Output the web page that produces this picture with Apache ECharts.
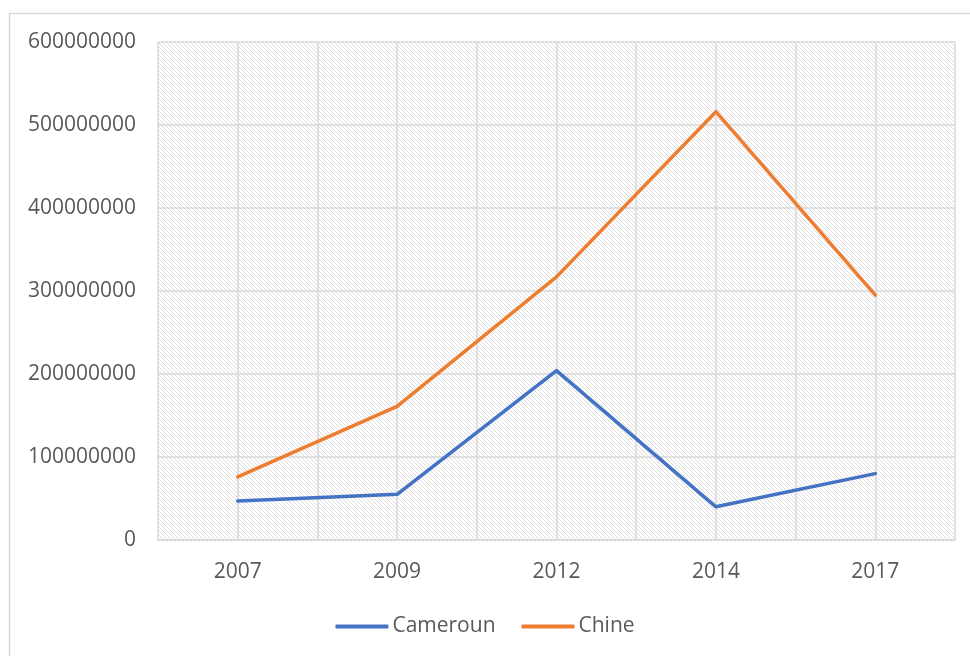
<!DOCTYPE html>
<html>
<head>
<meta charset="utf-8">
<script src="https://cdn.jsdelivr.net/npm/echarts@6/dist/echarts.min.js"></script>
<style>
  html, body { margin: 0; padding: 0; background: #fff; }
  #chart { width: 970px; height: 656px; }
</style>
</head>
<body>
<div id="chart"></div>
<script>
const years = ['2007', '2009', '2012', '2014', '2017']
const cameroun = [47000000, 55000000, 204000000, 40000000, 80000000]
const chine = [76000000, 161000000, 317000000, 516000000, 295000000]

// hatched plot background
function hatch() {
  const c = document.createElement('canvas')
  c.width = 4
  c.height = 4
  const ctx = c.getContext('2d')
  ctx.fillStyle = '#ffffff'
  ctx.fillRect(0, 0, 4, 4)
  ctx.fillStyle = '#dedede'
  for (let i = 0; i < 4; i++) {
    ctx.fillRect(i, i, 1, 1)
  }
  return c
}

const textColor = '#595959'
const gridColor = '#d9d9d9'
const font = '"Open Sans", "Noto Sans", sans-serif'

const chart = echarts.init(document.getElementById('chart'))
chart.setOption({
  animation: false,
  graphic: [{
    type: 'rect',
    shape: { x: 9.5, y: 13.5, width: 1000, height: 700 },
    style: { fill: null, stroke: gridColor, lineWidth: 1.5 },
    z: -10
  }],
  grid: {
    left: 158, right: 15, top: 42, bottom: 116,
    show: true,
    borderWidth: 0,
    backgroundColor: { image: hatch(), repeat: 'repeat' }
  },
  legend: {
    bottom: 14,
    left: 'center',
    itemWidth: 53,
    itemHeight: 4,
    itemGap: 26,
    icon: 'roundRect',
    textStyle: { color: textColor, fontSize: 21, fontFamily: font, padding: [0, 0, 0, -1] },
    data: ['Cameroun', 'Chine']
  },
  xAxis: [{
    type: 'category',
    data: years,
    boundaryGap: true,
    axisLine: { lineStyle: { color: gridColor, width: 1.5 } },
    axisTick: { show: false },
    splitLine: { show: false },
    axisLabel: { color: textColor, fontSize: 21, fontFamily: font, margin: 22 }
  }, {
    type: 'value',
    min: 0, max: 10, interval: 1,
    position: 'bottom',
    axisLine: { show: false },
    axisTick: { show: false },
    axisLabel: { show: false },
    splitLine: { show: true, lineStyle: { color: gridColor, width: 1.5 } }
  }],
  yAxis: {
    type: 'value',
    min: 0, max: 600000000, interval: 100000000,
    axisLine: { show: false },
    axisTick: { show: false },
    axisLabel: {
      color: textColor, fontSize: 21, fontFamily: font, margin: 22,
      formatter: v => String(v)
    },
    splitLine: { lineStyle: { color: gridColor, width: 1.5 } }
  },
  series: [{
    name: 'Cameroun',
    type: 'line',
    data: cameroun,
    symbol: 'none',
    color: '#4472C4',
    lineStyle: { width: 3.5, cap: 'round', join: 'round' },
    z: 3
  }, {
    name: 'Chine',
    type: 'line',
    data: chine,
    symbol: 'none',
    color: '#ED7D31',
    lineStyle: { width: 3.5, cap: 'round', join: 'round' },
    z: 3
  }]
})
</script>
</body>
</html>
